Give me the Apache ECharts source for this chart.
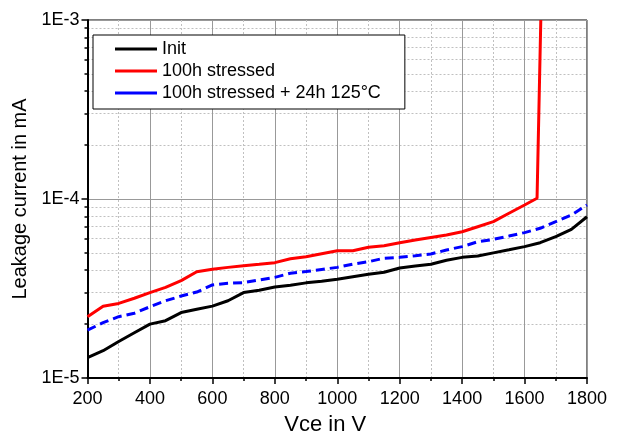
<!DOCTYPE html>
<html>
<head>
<meta charset="utf-8">
<script src="https://cdn.jsdelivr.net/npm/echarts@6/dist/echarts.min.js"></script>
<style>
  html, body { margin: 0; padding: 0; background: #fff; }
  #chart { width: 622px; height: 432px; }
</style>
</head>
<body>
<div id="chart"></div>
<script>
// data
var vce = [200, 250, 300, 350, 400, 450, 500, 550, 600, 650, 700, 750, 800, 850, 900, 950, 1000,
  1050, 1100, 1150, 1200, 1250, 1300, 1350, 1400, 1450, 1500, 1550, 1600, 1650, 1700, 1750, 1800];
var initVals = [1.30e-5, 1.42e-5, 1.60e-5, 1.79e-5, 2.00e-5, 2.09e-5, 2.32e-5, 2.42e-5, 2.52e-5, 2.70e-5,
  3.00e-5, 3.09e-5, 3.22e-5, 3.30e-5, 3.40e-5, 3.47e-5, 3.56e-5, 3.68e-5, 3.80e-5, 3.90e-5, 4.12e-5,
  4.22e-5, 4.32e-5, 4.55e-5, 4.72e-5, 4.80e-5, 5.00e-5, 5.20e-5, 5.42e-5, 5.70e-5, 6.16e-5, 6.77e-5, 7.96e-5];
var vceStressed = [200, 250, 300, 350, 400, 450, 500, 550, 600, 650, 700, 750, 800, 850, 900, 950, 1000,
  1050, 1100, 1150, 1200, 1250, 1300, 1350, 1400, 1450, 1500, 1550, 1600, 1640, 1652];
var stressedVals = [2.20e-5, 2.52e-5, 2.61e-5, 2.79e-5, 3.00e-5, 3.21e-5, 3.50e-5, 3.92e-5, 4.05e-5, 4.15e-5,
  4.24e-5, 4.32e-5, 4.41e-5, 4.64e-5, 4.76e-5, 4.95e-5, 5.14e-5, 5.14e-5, 5.37e-5, 5.48e-5, 5.70e-5,
  5.90e-5, 6.10e-5, 6.29e-5, 6.56e-5, 7.00e-5, 7.47e-5, 8.32e-5, 9.26e-5, 1.01e-4, 1.0e-3];
var bakedVals = [1.85e-5, 2.04e-5, 2.20e-5, 2.30e-5, 2.50e-5, 2.70e-5, 2.87e-5, 3.02e-5, 3.31e-5, 3.38e-5,
  3.41e-5, 3.53e-5, 3.65e-5, 3.85e-5, 3.93e-5, 4.04e-5, 4.15e-5, 4.33e-5, 4.46e-5, 4.67e-5, 4.72e-5,
  4.82e-5, 4.93e-5, 5.19e-5, 5.42e-5, 5.77e-5, 5.95e-5, 6.21e-5, 6.49e-5, 6.86e-5, 7.47e-5, 8.14e-5, 9.26e-5];
var names = ['Init', '100h stressed', '100h stressed + 24h 125°C'];

function pairs(xs, ys) {
  var out = [];
  for (var i = 0; i < xs.length; i++) out.push([xs[i], ys[i]]);
  return out;
}

var font = 'Liberation Sans, Arial, sans-serif';
var chart = echarts.init(document.getElementById('chart'), null, { renderer: 'canvas' });

var option = {
  backgroundColor: '#fff',
  animation: false,
  grid: {
    left: 87.5, right: 35, top: 20, bottom: 54,
    outerBoundsMode: 'none',
    show: true, borderColor: '#000', borderWidth: 1, backgroundColor: 'transparent'
  },
  legend: {
    orient: 'vertical',
    left: 93, top: 35,
    padding: [5, 24, 7, 22],
    itemGap: 4,
    itemWidth: 42, itemHeight: 3,
    itemTextGap: 6,
    icon: 'rect',
    backgroundColor: '#fff',
    borderColor: '#000', borderWidth: 1,
    textStyle: { fontFamily: font, fontSize: 18, color: '#000' },
    data: names
  },
  xAxis: {
    type: 'value',
    min: 200, max: 1800, interval: 200,
    name: 'Vce in V',
    nameLocation: 'middle',
    nameGap: 36,
    nameTextStyle: { fontFamily: font, fontSize: 22, color: '#000', padding: [0, 24, 0, 0] },
    axisLine: { show: true, onZero: false, lineStyle: { color: '#000', width: 2 } },
    axisTick: { show: true, length: 6, lineStyle: { color: '#000', width: 1.5 } },
    minorTick: { show: true, splitNumber: 2, length: 3, lineStyle: { color: '#000', width: 1.5 } },
    axisLabel: {
      fontFamily: font, fontSize: 18, color: '#000', margin: 12,
      formatter: function (v) { return String(v); }
    },
    splitLine: { show: true, lineStyle: { color: '#999', width: 1 } },
    minorSplitLine: { show: true, lineStyle: { color: '#c0c0c0', width: 1, type: [2, 2] } }
  },
  yAxis: {
    type: 'log',
    logBase: 10,
    min: 1e-5, max: 1e-3,
    name: 'Leakage current in mA',
    nameLocation: 'middle',
    nameGap: 48,
    nameTextStyle: { fontFamily: font, fontSize: 20, color: '#000' },
    axisLine: { show: true, lineStyle: { color: '#000', width: 2 } },
    axisTick: { show: true, length: 6, lineStyle: { color: '#000', width: 1.5 } },
    minorTick: { show: true, splitNumber: 9, length: 3, lineStyle: { color: '#000', width: 1.5 } },
    axisLabel: {
      fontFamily: font, fontSize: 18, color: '#000', margin: 8,
      formatter: function (v) { return '1E' + Math.round(Math.log10(v)); }
    },
    splitLine: { show: true, lineStyle: { color: '#999', width: 1 } },
    minorSplitLine: { show: true, lineStyle: { color: '#c0c0c0', width: 1, type: [2, 2] } }
  },
  series: [
    {
      name: names[0], type: 'line', showSymbol: false, symbol: 'none',
      color: '#000', lineStyle: { color: '#000', width: 3 },
      data: pairs(vce, initVals), z: 3
    },
    {
      name: names[1], type: 'line', showSymbol: false, symbol: 'none',
      color: '#ff0000', lineStyle: { color: '#ff0000', width: 3 },
      data: pairs(vceStressed, stressedVals), z: 3
    },
    {
      name: names[2], type: 'line', showSymbol: false, symbol: 'none',
      color: '#0000ff', lineStyle: { color: '#0000ff', width: 3, type: [9, 5] },
      data: pairs(vce, bakedVals), z: 3
    }
  ]
};
chart.setOption(option);
</script>
</body>
</html>
